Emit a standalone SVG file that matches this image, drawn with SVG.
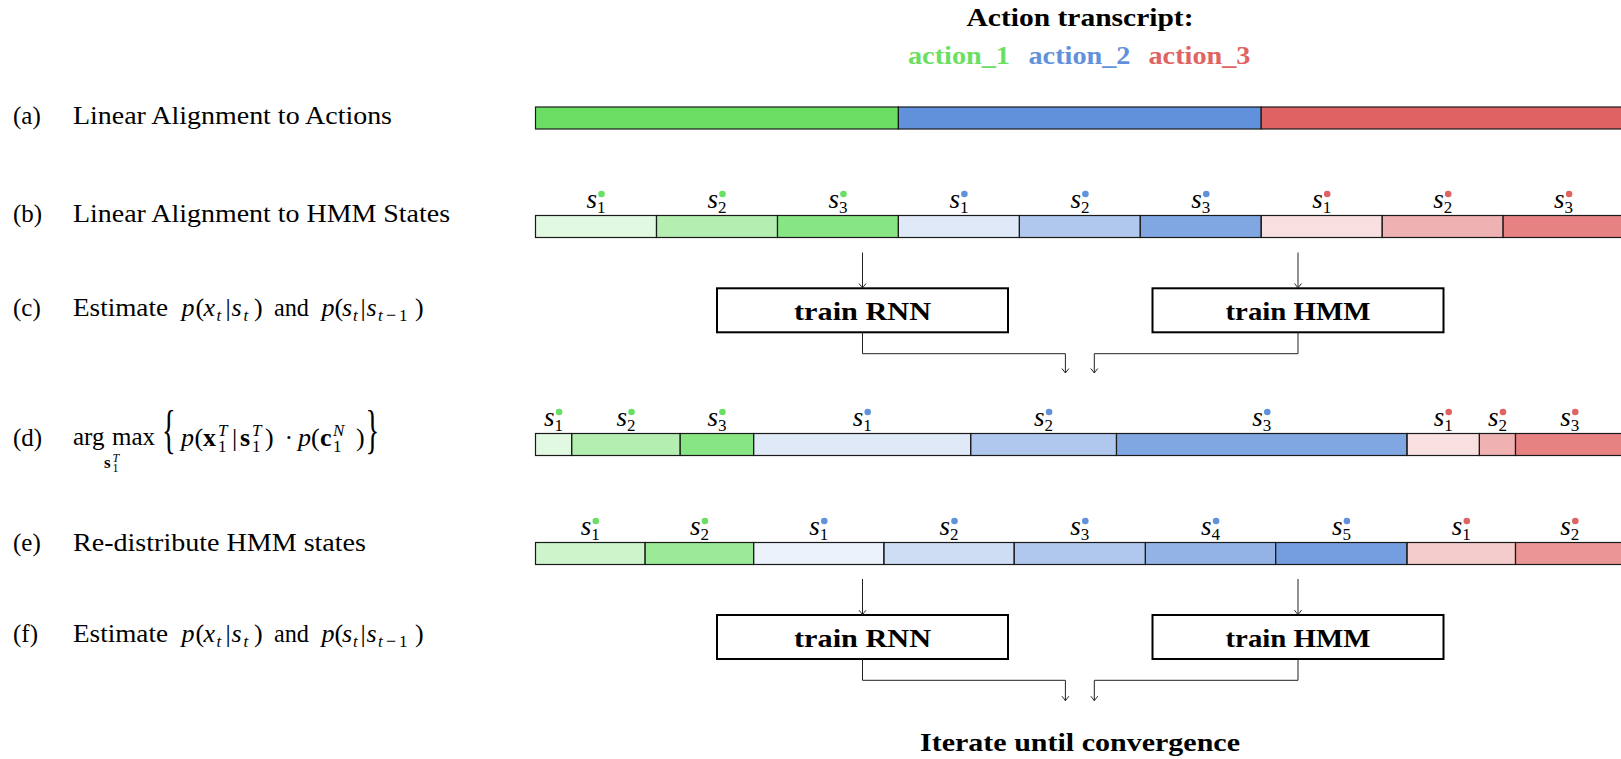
<svg xmlns="http://www.w3.org/2000/svg" width="1621" height="759" viewBox="0 0 1621 759">
  <style>
    .t { font-family: "Liberation Serif", "Times New Roman", serif; fill: #000; }
    .lt { font-size: 25px; }
    .mt { font-size: 26px; }
    .bf { font-size: 25px; font-weight: bold; }
    .it { font-style: italic; }
    .bd { font-weight: bold; }
    .sb { font-size: 17px; }
    .sc { font-size: 12px; }
    .lab { font-family: "Liberation Serif", "Times New Roman", serif; font-size: 27px; font-style: italic; text-anchor: middle; fill: #000; }
    .ss { font-style: normal; font-size: 17px; }
    .mid { text-anchor: middle; }
    .seg { stroke: #1a1a1a; stroke-width: 1.2; }
    .g { fill: #6ADF64; }
    .b { fill: #6291DC; }
    .r { fill: #E06363; }
    .o12 { fill-opacity: 0.12; }
    .o2 { fill-opacity: 0.2; }
    .o31 { fill-opacity: 0.31; }
    .o33 { fill-opacity: 0.33; }
    .o5 { fill-opacity: 0.5; }
    .o67 { fill-opacity: 0.67; }
    .o69 { fill-opacity: 0.69; }
    .o8 { fill-opacity: 0.8; }
    .o88 { fill-opacity: 0.88; }
    .box { fill: #fff; stroke: #000; stroke-width: 2; }
    .wire { fill: none; stroke: #222; stroke-width: 1; marker-end: url(#ah); }
  </style>
  <defs>
    <marker id="ah" viewBox="-6 -5 8 10" refX="0" refY="0" markerWidth="8" markerHeight="10" markerUnits="userSpaceOnUse" orient="auto">
      <path d="M-4.5,-3.5 Q-1.5,-1 0,0 Q-1.5,1 -4.5,3.5" fill="none" stroke="#222" stroke-width="1"/>
    </marker>
  </defs>
  <rect width="1621" height="759" fill="#fff"/>

  <!-- transcript header -->
  <g id="header">
    <text class="t bf mid" x="1080" y="26" textLength="227" lengthAdjust="spacingAndGlyphs">Action transcript:</text>
    <text class="t bf" x="908" y="64" textLength="102" lengthAdjust="spacingAndGlyphs" style="fill:#6ADF64">action_1</text>
    <text class="t bf" x="1028.5" y="64" textLength="102" lengthAdjust="spacingAndGlyphs" style="fill:#6291DC">action_2</text>
    <text class="t bf" x="1148.5" y="64" textLength="102" lengthAdjust="spacingAndGlyphs" style="fill:#E06363">action_3</text>
  </g>

  <!-- step captions -->
  <g id="step-a">
    <text class="t lt" x="13" y="124">(a)</text>
    <text class="t lt" x="73" y="124" textLength="319" lengthAdjust="spacingAndGlyphs">Linear Alignment to Actions</text>
  </g>
  <g id="step-b">
    <text class="t lt" x="13" y="221.5">(b)</text>
    <text class="t lt" x="73" y="221.5" textLength="377" lengthAdjust="spacingAndGlyphs">Linear Alignment to HMM States</text>
  </g>
  <g id="step-c">
    <text class="t lt" x="13" y="316">(c)</text>
    <text class="t lt" x="73" y="316" textLength="95" lengthAdjust="spacingAndGlyphs">Estimate</text>
    <text class="t mt" y="316"><tspan x="181.5" class="it">p</tspan><tspan x="195.5">(</tspan><tspan x="203.5" class="it">x</tspan><tspan x="216.5" dy="5" class="it sb">t</tspan><tspan x="225.5" dy="-5">|</tspan><tspan x="231.5" class="it">s</tspan><tspan x="243.5" dy="5" class="it sb">t</tspan><tspan x="254" dy="-5">)</tspan></text>
    <text class="t lt" x="274" y="316" textLength="35" lengthAdjust="spacingAndGlyphs">and</text>
    <text class="t mt" y="316"><tspan x="321.5" class="it">p</tspan><tspan x="334.5">(</tspan><tspan x="342" class="it">s</tspan><tspan x="353" dy="5" class="it sb">t</tspan><tspan x="360.5" dy="-5">|</tspan><tspan x="366.5" class="it">s</tspan><tspan x="378" dy="5" class="it sb">t</tspan><tspan x="386" font-size="18">−</tspan><tspan x="399" class="sb">1</tspan><tspan x="415" dy="-5">)</tspan></text>
  </g>
  <g id="step-d">
    <text class="t lt" x="13" y="446">(d)</text>
    <text class="t lt" y="445"><tspan x="73">arg</tspan><tspan x="112">max</tspan><tspan x="104" y="468" font-size="17" class="bd">s</tspan><tspan x="112.5" y="472" class="sc">1</tspan><tspan x="112.5" y="462" class="sc it">T</tspan></text>
    <text class="t" font-size="52" transform="translate(162,446.5) scale(0.55,1)">{</text>
    <text class="t mt" y="446"><tspan x="181" class="it">p</tspan><tspan x="194.5">(</tspan><tspan x="203" class="bd">x</tspan><tspan x="218" y="436" class="sb it">T</tspan><tspan x="218" y="452" class="sb">1</tspan><tspan x="232" y="446">|</tspan><tspan x="240" class="bd">s</tspan><tspan x="252" y="436" class="sb it">T</tspan><tspan x="252" y="452" class="sb">1</tspan><tspan x="265" y="446">)</tspan><tspan x="284.5">·</tspan><tspan x="298" class="it">p</tspan><tspan x="311">(</tspan><tspan x="320" class="bd">c</tspan><tspan x="333" y="436" class="sb it">N</tspan><tspan x="333" y="452" class="sb">1</tspan><tspan x="356" y="446">)</tspan></text>
    <text class="t" font-size="52" transform="translate(365.5,446.5) scale(0.55,1)">}</text>
  </g>
  <g id="step-e">
    <text class="t lt" x="13" y="550.5">(e)</text>
    <text class="t lt" x="73" y="550.5" textLength="293" lengthAdjust="spacingAndGlyphs">Re-distribute HMM states</text>
  </g>
  <g id="step-f">
    <text class="t lt" x="13" y="641.5">(f)</text>
    <text class="t lt" x="73" y="641.5" textLength="95" lengthAdjust="spacingAndGlyphs">Estimate</text>
    <text class="t mt" y="641.5"><tspan x="181.5" class="it">p</tspan><tspan x="195.5">(</tspan><tspan x="203.5" class="it">x</tspan><tspan x="216.5" dy="5" class="it sb">t</tspan><tspan x="225.5" dy="-5">|</tspan><tspan x="231.5" class="it">s</tspan><tspan x="243.5" dy="5" class="it sb">t</tspan><tspan x="254" dy="-5">)</tspan></text>
    <text class="t lt" x="274" y="641.5" textLength="35" lengthAdjust="spacingAndGlyphs">and</text>
    <text class="t mt" y="641.5"><tspan x="321.5" class="it">p</tspan><tspan x="334.5">(</tspan><tspan x="342" class="it">s</tspan><tspan x="353" dy="5" class="it sb">t</tspan><tspan x="360.5" dy="-5">|</tspan><tspan x="366.5" class="it">s</tspan><tspan x="378" dy="5" class="it sb">t</tspan><tspan x="386" font-size="18">−</tspan><tspan x="399" class="sb">1</tspan><tspan x="415" dy="-5">)</tspan></text>
  </g>

  <!-- (a) one block per action -->
  <g id="bar-a">
    <rect x="535.5" y="107" width="362.9" height="22" class="seg g"/>
    <rect x="898.4" y="107" width="362.8" height="22" class="seg b"/>
    <rect x="1261.2" y="107" width="362.8" height="22" class="seg r"/>
  </g>

  <!-- (b) three equal HMM states per action -->
  <g id="bar-b">
    <rect x="535.5" y="215.5" width="121" height="22" class="seg g o2"/>
    <rect x="656.5" y="215.5" width="121" height="22" class="seg g o5"/>
    <rect x="777.5" y="215.5" width="120.9" height="22" class="seg g o8"/>
    <rect x="898.4" y="215.5" width="121" height="22" class="seg b o2"/>
    <rect x="1019.4" y="215.5" width="120.9" height="22" class="seg b o5"/>
    <rect x="1140.3" y="215.5" width="120.9" height="22" class="seg b o8"/>
    <rect x="1261.2" y="215.5" width="121" height="22" class="seg r o2"/>
    <rect x="1382.2" y="215.5" width="120.9" height="22" class="seg r o5"/>
    <rect x="1503.1" y="215.5" width="120.9" height="22" class="seg r o8"/>
    <text class="lab" x="596" y="208">s<tspan class="ss" dy="5">1</tspan></text>
    <text class="lab" x="717" y="208">s<tspan class="ss" dy="5">2</tspan></text>
    <text class="lab" x="838" y="208">s<tspan class="ss" dy="5">3</tspan></text>
    <text class="lab" x="958.9" y="208">s<tspan class="ss" dy="5">1</tspan></text>
    <text class="lab" x="1079.9" y="208">s<tspan class="ss" dy="5">2</tspan></text>
    <text class="lab" x="1200.8" y="208">s<tspan class="ss" dy="5">3</tspan></text>
    <text class="lab" x="1321.7" y="208">s<tspan class="ss" dy="5">1</tspan></text>
    <text class="lab" x="1442.7" y="208">s<tspan class="ss" dy="5">2</tspan></text>
    <text class="lab" x="1563.6" y="208">s<tspan class="ss" dy="5">3</tspan></text>
    <circle cx="601.5" cy="194" r="3.3" class="g"/>
    <circle cx="722.5" cy="194" r="3.3" class="g"/>
    <circle cx="843.5" cy="194" r="3.3" class="g"/>
    <circle cx="964.4" cy="194" r="3.3" class="b"/>
    <circle cx="1085.4" cy="194" r="3.3" class="b"/>
    <circle cx="1206.3" cy="194" r="3.3" class="b"/>
    <circle cx="1327.2" cy="194" r="3.3" class="r"/>
    <circle cx="1448.2" cy="194" r="3.3" class="r"/>
    <circle cx="1569.1" cy="194" r="3.3" class="r"/>
  </g>

  <!-- training blocks -->
  <g id="rnn-c">
    <rect x="717" y="288.3" width="291" height="44" class="box"/>
    <text class="t bf mid" x="862.5" y="320" textLength="137" lengthAdjust="spacingAndGlyphs">train RNN</text>
  </g>
  <g id="hmm-c">
    <rect x="1152.5" y="288.3" width="291" height="44" class="box"/>
    <text class="t bf mid" x="1298" y="320" textLength="145" lengthAdjust="spacingAndGlyphs">train HMM</text>
  </g>

  <!-- (d) Viterbi alignment -->
  <g id="bar-d">
    <rect x="535.5" y="433.5" width="36.2" height="22" class="seg g o2"/>
    <rect x="571.7" y="433.5" width="108.5" height="22" class="seg g o5"/>
    <rect x="680.2" y="433.5" width="73.4" height="22" class="seg g o8"/>
    <rect x="753.6" y="433.5" width="217.1" height="22" class="seg b o2"/>
    <rect x="970.7" y="433.5" width="145.8" height="22" class="seg b o5"/>
    <rect x="1116.5" y="433.5" width="290.5" height="22" class="seg b o8"/>
    <rect x="1407" y="433.5" width="72.4" height="22" class="seg r o2"/>
    <rect x="1479.4" y="433.5" width="36.1" height="22" class="seg r o5"/>
    <rect x="1515.5" y="433.5" width="108.5" height="22" class="seg r o8"/>
    <text class="lab" x="553.6" y="426">s<tspan class="ss" dy="5">1</tspan></text>
    <text class="lab" x="626" y="426">s<tspan class="ss" dy="5">2</tspan></text>
    <text class="lab" x="716.9" y="426">s<tspan class="ss" dy="5">3</tspan></text>
    <text class="lab" x="862.2" y="426">s<tspan class="ss" dy="5">1</tspan></text>
    <text class="lab" x="1043.6" y="426">s<tspan class="ss" dy="5">2</tspan></text>
    <text class="lab" x="1261.8" y="426">s<tspan class="ss" dy="5">3</tspan></text>
    <text class="lab" x="1443.2" y="426">s<tspan class="ss" dy="5">1</tspan></text>
    <text class="lab" x="1497.5" y="426">s<tspan class="ss" dy="5">2</tspan></text>
    <text class="lab" x="1569.8" y="426">s<tspan class="ss" dy="5">3</tspan></text>
    <circle cx="559.1" cy="412" r="3.3" class="g"/>
    <circle cx="631.5" cy="412" r="3.3" class="g"/>
    <circle cx="722.4" cy="412" r="3.3" class="g"/>
    <circle cx="867.7" cy="412" r="3.3" class="b"/>
    <circle cx="1049.1" cy="412" r="3.3" class="b"/>
    <circle cx="1267.3" cy="412" r="3.3" class="b"/>
    <circle cx="1448.7" cy="412" r="3.3" class="r"/>
    <circle cx="1503" cy="412" r="3.3" class="r"/>
    <circle cx="1575.3" cy="412" r="3.3" class="r"/>
  </g>

  <!-- (e) redistributed states -->
  <g id="bar-e">
    <rect x="535.5" y="542.5" width="109.6" height="22" class="seg g o33"/>
    <rect x="645.1" y="542.5" width="108.5" height="22" class="seg g o67"/>
    <rect x="753.6" y="542.5" width="130.3" height="22" class="seg b o12"/>
    <rect x="883.9" y="542.5" width="130.3" height="22" class="seg b o31"/>
    <rect x="1014.2" y="542.5" width="131.2" height="22" class="seg b o5"/>
    <rect x="1145.4" y="542.5" width="130.3" height="22" class="seg b o69"/>
    <rect x="1275.7" y="542.5" width="131.3" height="22" class="seg b o88"/>
    <rect x="1407" y="542.5" width="108.5" height="22" class="seg r o33"/>
    <rect x="1515.5" y="542.5" width="108.5" height="22" class="seg r o67"/>
    <text class="lab" x="590.3" y="535">s<tspan class="ss" dy="5">1</tspan></text>
    <text class="lab" x="699.4" y="535">s<tspan class="ss" dy="5">2</tspan></text>
    <text class="lab" x="818.8" y="535">s<tspan class="ss" dy="5">1</tspan></text>
    <text class="lab" x="949" y="535">s<tspan class="ss" dy="5">2</tspan></text>
    <text class="lab" x="1079.8" y="535">s<tspan class="ss" dy="5">3</tspan></text>
    <text class="lab" x="1210.6" y="535">s<tspan class="ss" dy="5">4</tspan></text>
    <text class="lab" x="1341.4" y="535">s<tspan class="ss" dy="5">5</tspan></text>
    <text class="lab" x="1461.3" y="535">s<tspan class="ss" dy="5">1</tspan></text>
    <text class="lab" x="1569.8" y="535">s<tspan class="ss" dy="5">2</tspan></text>
    <circle cx="595.8" cy="521" r="3.3" class="g"/>
    <circle cx="704.9" cy="521" r="3.3" class="g"/>
    <circle cx="824.3" cy="521" r="3.3" class="b"/>
    <circle cx="954.5" cy="521" r="3.3" class="b"/>
    <circle cx="1085.3" cy="521" r="3.3" class="b"/>
    <circle cx="1216.1" cy="521" r="3.3" class="b"/>
    <circle cx="1346.9" cy="521" r="3.3" class="b"/>
    <circle cx="1466.8" cy="521" r="3.3" class="r"/>
    <circle cx="1575.3" cy="521" r="3.3" class="r"/>
  </g>

  <g id="rnn-f">
    <rect x="717" y="615" width="291" height="44" class="box"/>
    <text class="t bf mid" x="862.5" y="646.5" textLength="137" lengthAdjust="spacingAndGlyphs">train RNN</text>
  </g>
  <g id="hmm-f">
    <rect x="1152.5" y="615" width="291" height="44" class="box"/>
    <text class="t bf mid" x="1298" y="646.5" textLength="145" lengthAdjust="spacingAndGlyphs">train HMM</text>
  </g>

  <g id="footer">
    <text class="t bf mid" x="1080" y="751" textLength="320" lengthAdjust="spacingAndGlyphs">Iterate until convergence</text>
  </g>

  <!-- arrows between stages -->
  <g id="connectors">
    <path d="M862.5,252.5 V288" class="wire"/>
    <path d="M1298,252.5 V288" class="wire"/>
    <path d="M862.5,332.3 V353.7 H1065.4 V373" class="wire"/>
    <path d="M1298,332.3 V353.7 H1094.3 V373" class="wire"/>
    <path d="M862.5,579 V614.7" class="wire"/>
    <path d="M1298,579 V614.7" class="wire"/>
    <path d="M862.5,659 V680.3 H1065.4 V700.7" class="wire"/>
    <path d="M1298,659 V680.3 H1094.3 V700.7" class="wire"/>
  </g>
</svg>
